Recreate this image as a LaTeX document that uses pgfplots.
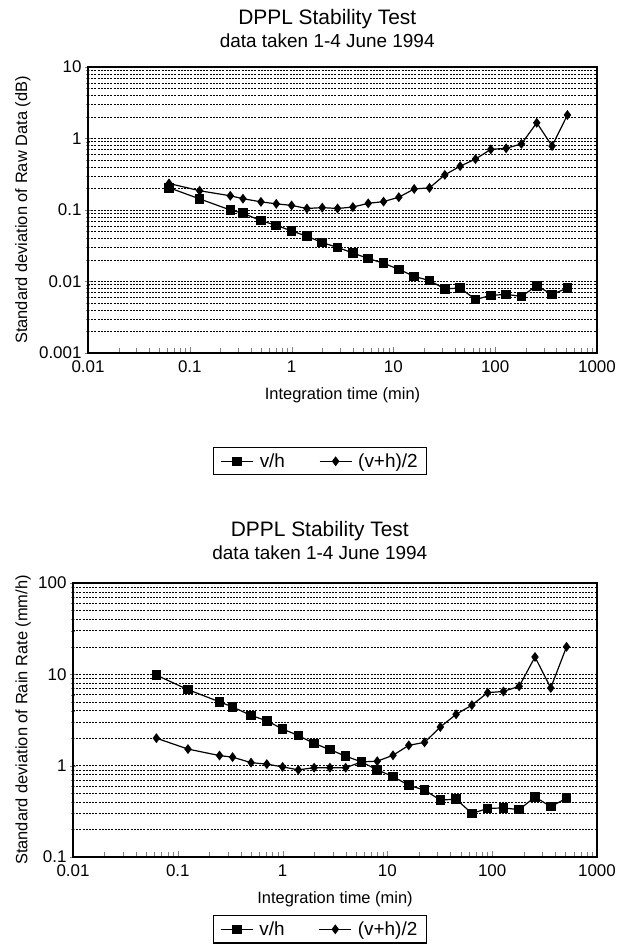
\documentclass[border=0pt]{standalone}
\usepackage{fontspec}
\setmainfont{Liberation Sans}
\usepackage{pgfplots}
\pgfplotsset{compat=1.18}

% integration time (min), v/h, (v+h)/2
\pgfplotstableread{
t       vh      vhh
0.0625  0.205   0.235
0.125   0.143   0.186
0.25    0.100   0.158
0.333   0.090   0.144
0.5     0.071   0.130
0.707   0.061   0.122
1       0.051   0.116
1.414   0.043   0.105
2       0.035   0.108
2.828   0.030   0.105
4       0.025   0.110
5.657   0.021   0.124
8       0.018   0.131
11.31   0.0148  0.151
16      0.0118  0.197
22.63   0.0103  0.204
32      0.0079  0.31
45.25   0.0081  0.41
64      0.0056  0.516
90.51   0.0064  0.705
128     0.0066  0.73
181     0.0062  0.84
256     0.0087  1.66
362     0.0066  0.785
512     0.0081  2.13
}\rawdata

\pgfplotstableread{
t       vh      vhh
0.0625  9.8     2.0
0.125   6.8     1.52
0.25    5.0     1.29
0.333   4.4     1.24
0.5     3.55    1.08
0.707   3.1     1.04
1       2.52    0.97
1.414   2.14    0.90
2       1.75    0.95
2.828   1.50    0.95
4       1.27    0.95
5.657   1.10    1.10
8       0.90    1.12
11.31   0.76    1.30
16      0.61    1.67
22.63   0.54    1.80
32      0.42    2.65
45.25   0.43    3.65
64      0.30    4.6
90.51   0.34    6.3
128     0.345   6.5
181     0.33    7.4
256     0.455   15.5
362     0.356   7.1
512     0.44    20.0
}\ratedata

\tikzset{
  sq/.style={black, line width=1.2bp, mark=square*, mark size=4.2bp, mark options={solid}},
  dm/.style={black, line width=1.2bp, mark=diamond*, mark size=4bp, mark options={solid}},
}

\pgfplotsset{
  every axis/.append style={
    scale only axis,
    xmin=0.01, xmax=1000,
    xtick={0.01,0.1,1,10,100,1000},
    xticklabels={0.01,0.1,1,10,100,1000},
    minor xtick={0.02,0.03,0.04,0.05,0.06,0.07,0.08,0.09,
                 0.2,0.3,0.4,0.5,0.6,0.7,0.8,0.9,
                 2,3,4,5,6,7,8,9,20,30,40,50,60,70,80,90,
                 200,300,400,500,600,700,800,900},
    xtick pos=bottom, ytick pos=left,
    xtick align=inside, ytick align=center,
    major tick length=6bp, minor tick length=5bp,
    axis line style={line width=1.2bp},
    ymajorgrids, yminorgrids,
    major grid style={black, line width=0.6bp, dash pattern=on 2bp off 1.2bp},
    minor grid style={black, line width=0.6bp, dash pattern=on 2bp off 1.2bp},
    tick label style={font=\fontsize{17}{19}\selectfont},
    xticklabel style={yshift=-4bp},
    xlabel={Integration time (min)},
    title style={anchor=south, align=center, font=\fontsize{21}{23}\selectfont},
    legend columns=2,
    legend style={anchor=north, draw=black, line width=1.2bp,
                  font=\fontsize{19}{22}\selectfont,
                  inner xsep=7bp, inner ysep=4bp,
                  /tikz/every odd column/.append style={column sep=4bp},
                  /tikz/every even column/.append style={column sep=32bp}},
    legend image code/.code={
      \draw[line width=1.2bp] (0bp,0bp) -- (32bp,0bp);
      \draw[draw=none] plot coordinates {(16bp,0bp)};},
  },
  every axis x label/.style={at={(axis description cs:0.5,0)}, anchor=center,
    yshift=-42bp, font=\fontsize{16.5}{19}\selectfont},
}

\begin{document}
\begin{tikzpicture}
\path[use as bounding box] (0,0) rectangle (627bp,-947bp);

\begin{axis}[
  xmode=log, ymode=log,
  at={(88bp,-353bp)}, anchor=south west,
  width=509bp, height=286bp,
  ymin=0.001, ymax=10,
  ytick={0.001,0.01,0.1,1,10},
  yticklabels={0.001,0.01,0.1,1,10},
  minor ytick={0.002,0.003,0.004,0.005,0.006,0.007,0.008,0.009,
               0.02,0.03,0.04,0.05,0.06,0.07,0.08,0.09,
               0.2,0.3,0.4,0.5,0.6,0.7,0.8,0.9,2,3,4,5,6,7,8,9},
  ylabel={Standard deviation of Raw Data (dB)},
  every axis y label/.style={at={(axis description cs:-0.128,0.5)}, rotate=90,
    anchor=center, font=\fontsize{16.5}{19}\selectfont},
  title={DPPL Stability Test\\{\fontsize{19}{23}\selectfont data taken 1-4 June 1994}},
  title style={at={(axis description cs:0.47,1)}, yshift=10bp},
  legend style={at={(axis description cs:0.456,-0.329)}},
]
\addplot[sq] table[x=t, y=vh] {\rawdata};
\addlegendentry{v/h}
\addplot[dm] table[x=t, y=vhh] {\rawdata};
\addlegendentry{(v+h)/2}
\end{axis}

\begin{axis}[
  xmode=log, ymode=log,
  at={(73bp,-857bp)}, anchor=south west,
  width=524bp, height=274bp,
  ymin=0.1, ymax=100,
  ytick={0.1,1,10,100},
  yticklabels={0.1,1,10,100},
  minor ytick={0.2,0.3,0.4,0.5,0.6,0.7,0.8,0.9,2,3,4,5,6,7,8,9,
               20,30,40,50,60,70,80,90},
  ylabel={Standard deviation of Rain Rate (mm/h)},
  every axis y label/.style={at={(axis description cs:-0.095,0.5)}, rotate=90,
    anchor=center, font=\fontsize{16.5}{19}\selectfont},
  title={DPPL Stability Test\\{\fontsize{19}{23}\selectfont data taken 1-4 June 1994}},
  title style={at={(axis description cs:0.471,1)}, yshift=14bp},
  legend style={at={(axis description cs:0.471,-0.212)}},
]
\addplot[sq] table[x=t, y=vh] {\ratedata};
\addlegendentry{v/h}
\addplot[dm] table[x=t, y=vhh] {\ratedata};
\addlegendentry{(v+h)/2}
\end{axis}
\end{tikzpicture}
\end{document}
